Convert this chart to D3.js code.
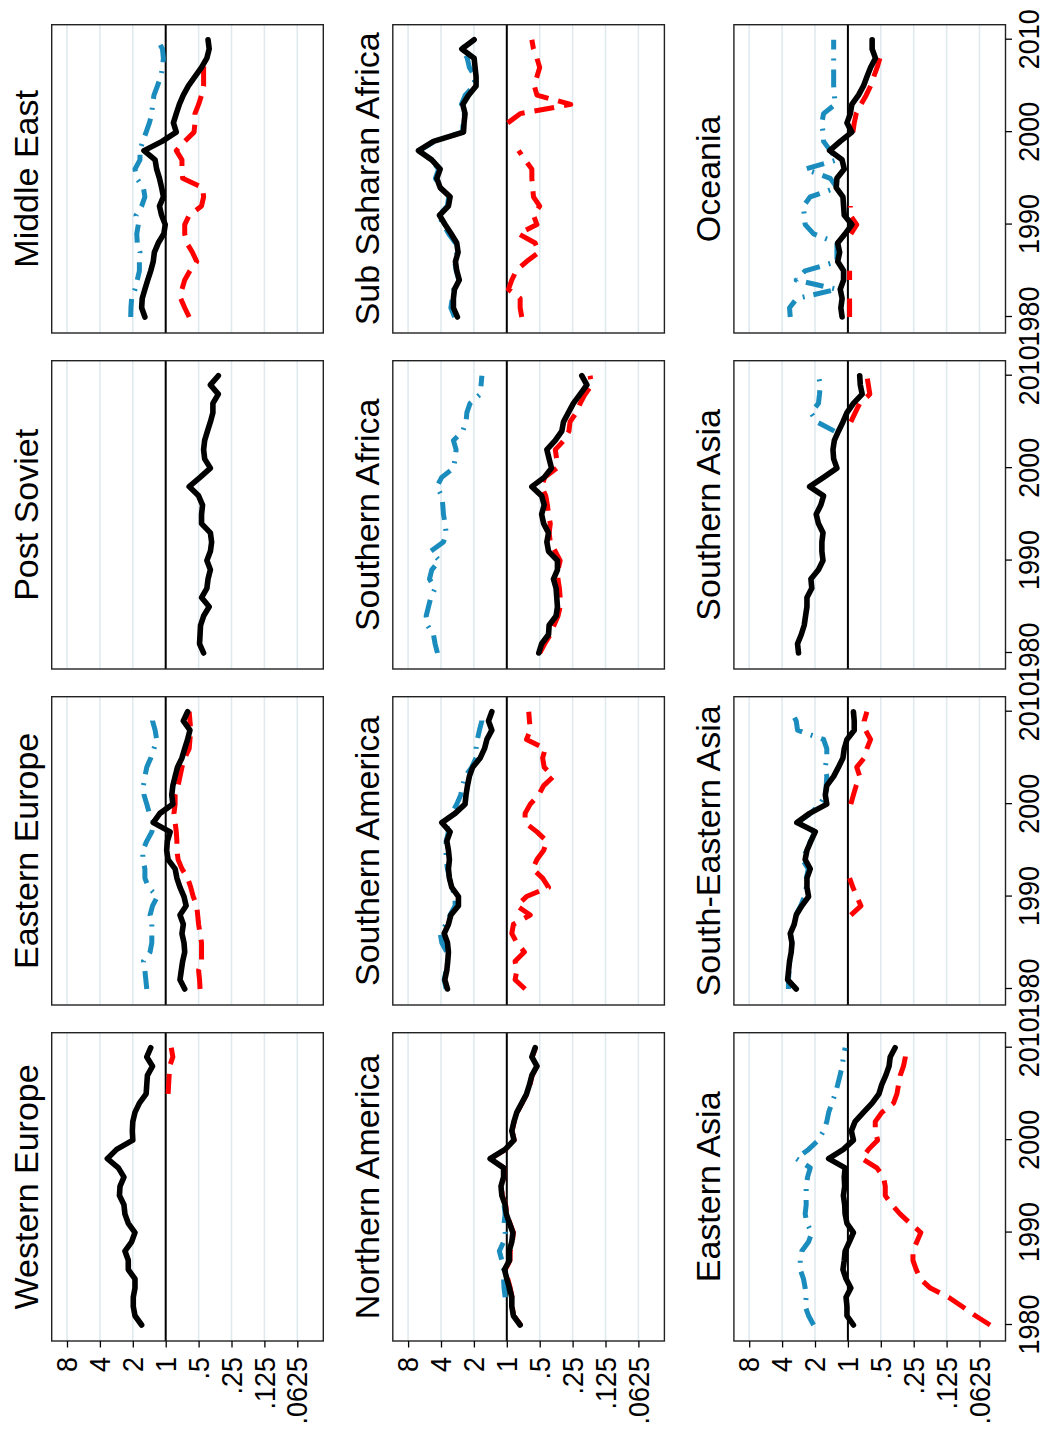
<!DOCTYPE html>
<html>
<head>
<meta charset="utf-8">
<script src="https://cdn.jsdelivr.net/npm/d3@7"></script>
<style>
  body { margin: 0; background: #fff; }
  svg { display: block; }
  text { font-family: "Liberation Sans", Arial, Helvetica, sans-serif; fill: #000; }
</style>
</head>
<body>
<div id="chart"></div>
<script>

const years = [1980, 1981, 1982, 1983, 1984, 1985, 1986, 1987, 1988, 1989,
               1990, 1991, 1992, 1993, 1994, 1995, 1996, 1997, 1998, 1999,
               2000, 2001, 2002, 2003, 2004, 2005, 2006, 2007, 2008, 2009, 2010];
const yearTicks = [1980, 1990, 2000, 2010];
const ratioTicks = [8, 4, 2, 1, 0.5, 0.25, 0.125, 0.0625];
const ratioLabels = ["8", "4", "2", "1", ".5", ".25", ".125", ".0625"];

// panel order as drawn before the graph was turned on its side (row by row)
const regions = ["Western Europe", "Eastern Europe", "Post Soviet", "Middle East",
                 "Northern America", "Southern America", "Southern Africa", "Sub Saharan Africa",
                 "Eastern Asia", "South-Eastern Asia", "Southern Asia", "Oceania"];

const westernEuropeBlack = [1.66,1.91,1.98,1.98,1.91, 1.91,2.20,2.20,2.36,2.05, 1.91,2.20,2.36,2.41,2.65, 2.62,2.41,2.71,3.42,2.81, 2.00,2.02,2.00,1.91,1.74, 1.51,1.49,1.47,1.32,1.49, 1.37];
const westernEuropeRed   = [null,null,null,null,null, null,null,null,null,null, null,null,null,null,null, null,null,null,null,null, null,null,null,null,null, 0.95,0.94,0.93,0.92,0.86, 0.89];

const easternEuropeBlack = [0.67,0.74,0.72,0.70,0.67, 0.68,0.71,0.69,0.74,0.65, 0.68,0.74,0.79,0.82,0.95, 0.98,0.965,0.91,1.30,1.13, 0.86,0.88,0.86,0.82,0.78, 0.71,0.67,0.63,0.60,0.69, 0.63];
const easternEuropeBlue  = [1.49,1.52,1.55,1.60,1.39, 1.34,1.34,1.34,1.39,1.32, 1.19,1.44,1.55,1.55,1.62, 1.62,1.49,1.34,1.28,1.41, 1.49,1.58,1.60,1.55,1.49, 1.37,1.28,1.21,1.25,1.32, 1.30];
const easternEuropeRed   = [0.485,0.49,0.50,0.47,0.47, 0.47,0.485,0.50,0.51,0.52, 0.56,0.59,0.63,0.71,0.77, 0.79,0.79,0.80,0.82,0.84, 0.82,0.82,0.77,0.74,0.71, 0.67,0.61,0.60,0.59,0.60, 0.61];

const postSovietBlack = [0.45,0.49,0.485,0.48,0.45, 0.40,0.47,0.42,0.41,0.39, 0.42,0.39,0.38,0.39,0.47, 0.47,0.46,0.50,0.61,0.485, 0.39,0.44,0.45,0.44,0.415, 0.39,0.37,0.37,0.33,0.39, 0.33];

const middleEastBlack = [1.55,1.66,1.64,1.55,1.46, 1.37,1.30,1.27,1.17,1.04, 1.01,1.09,1.14,1.05,1.09, 1.14,1.21,1.25,1.58,1.08, 0.80,0.85,0.80,0.75,0.69, 0.62,0.54,0.47,0.42,0.40, 0.41];
const middleEastBlue  = [2.09,2.08,2.05,1.91,1.82, 1.74,1.74,1.72,1.82,1.84, 1.78,1.87,1.66,1.55,1.60, 1.84,1.91,1.72,1.72,1.62, 1.51,1.41,1.34,1.32,1.28, 1.19,1.11,1.07,1.05,1.07, 1.19];
const middleEastRed   = [0.61,0.67,0.73,0.71,0.67, 0.60,0.52,0.57,0.64,0.67, 0.67,0.61,0.47,0.45,0.46, 0.70,0.71,0.71,0.80,0.67, 0.55,0.54,0.54,0.50,0.47, 0.45,0.45,0.45,0.44,null, null];

const northernAmericaBlack = [0.755,0.87,0.90,0.90,0.945, 1.00,1.05,0.945,0.95,0.90, 0.88,0.945,1.01,1.035,1.11, 1.13,1.07,1.07,1.42,1.035, 0.86,0.90,0.86,0.81,0.73, 0.66,0.62,0.59,0.53,0.59, 0.55];
const northernAmericaBlue  = [null,null,null,1.035,1.06, 1.07,1.07,1.11,1.17,1.07, 1.035,1.06,1.035,1.06,null, null,null,null,null,null, null,null,null,null,null, null,null,null,null,null, null];
const northernAmericaRed   = [0.745,0.865,0.895,0.895,0.93, 0.98,1.03,0.935,0.93,0.89, 0.87,0.935,1.00,1.025,1.10, 1.12,1.065,1.065,1.41,1.025, 0.855,0.895,0.855,0.805,0.725, 0.655,0.615,0.585,0.53,0.585, 0.545];

const southernAmericaBlack = [3.49,3.69,3.54,3.47,3.42, 3.49,3.74,3.42,3.25,2.77, 2.77,3.19,3.35,3.42,3.35, 3.42,3.54,3.30,3.93,2.97, 2.41,2.36,2.29,2.20,2.05, 1.75,1.60,1.52,1.37,1.47, 1.37];
const southernAmericaBlue  = [3.59,3.74,3.59,3.49,3.54, 3.93,4.07,3.59,3.30,2.97, 2.97,3.19,3.35,3.49,3.59, 3.59,3.59,3.42,3.59,3.19, 2.87,2.64,2.53,2.41,2.09, 1.91,1.91,1.86,1.78,1.69, 1.69];
const southernAmericaRed   = [0.68,0.84,0.81,0.84,0.69, 0.81,0.90,0.87,0.61,0.81, 0.66,0.415,0.47,0.58,0.53, 0.46,0.43,0.53,0.68,0.68, 0.61,0.51,0.46,0.374,0.455, 0.47,0.445,0.66,0.61,0.62, 0.63];

const southernAfricaBlack = [0.51,0.48,0.415,0.41,0.354, 0.344,0.349,0.354,0.374,0.344, 0.344,0.415,0.43,0.415,0.46, 0.48,0.455,0.48,0.59,0.455, 0.39,0.41,0.43,0.36,0.314, 0.303,0.273,0.246,0.213,0.185, 0.206];
const southernAfricaBlue  = [4.31,4.53,4.69,5.32,5.47, 5.21,4.96,4.53,5.10,4.86, 4.13,4.96,3.80,3.59,3.67, 3.80,3.85,3.94,4.37,3.94, 3.08,2.97,2.91,3.08,2.53, 2.36,2.32,2.17,1.75,1.72, 1.69];
const southernAfricaRed   = [0.50,0.45,0.40,0.37,0.34, 0.325,0.325,0.33,0.34,0.34, 0.325,0.36,0.40,0.41,0.40, 0.415,0.425,0.44,0.48,0.45, 0.35,0.35,0.36,0.30,0.27, 0.264,0.232,0.213,0.192,0.167, 0.173];

const subSaharanBlack = [2.83,3.08,3.08,3.01,2.72, 2.87,2.95,2.79,2.87,3.23, 3.67,4.13,3.42,3.30,4.07, 4.37,4.07,4.86,6.43,4.69, 2.49,2.46,2.41,2.53,2.24, 1.91,1.91,1.95,1.99,2.58, 1.99];
const subSaharanBlue  = [3.0,3.25,3.15,3.05,2.75, 2.9,3.0,2.85,2.95,3.4, 3.8,4.2,3.5,3.4,4.1, 4.5,4.2,4.9,6.3,4.6, 2.55,2.5,2.45,2.6,2.4, 2.0,1.95,2.2,2.3,2.55, 2.2];
const subSaharanRed   = [0.73,0.755,0.755,0.965,0.90, 0.82,0.66,0.51,0.55,0.78, 0.53,0.57,0.50,0.57,0.58, 0.59,0.59,0.68,0.78,null, null,0.98,0.755,0.26,0.53, 0.56,0.53,0.50,0.53,0.57, 0.59];

const easternAsiaBlack = [0.89,1.02,1.02,1.04,0.94, 1.04,1.11,1.08,1.06,0.97, 0.89,1.02,1.06,1.07,1.10, 1.07,1.08,1.06,1.50,1.10, 0.89,0.93,0.86,0.72,0.60, 0.52,0.49,0.45,0.42,0.41, 0.37];
const easternAsiaBlue  = [2.06,2.29,2.46,2.41,2.46, 2.55,2.73,2.73,2.64,2.29, 2.14,2.37,2.46,2.41,2.41, 2.41,2.34,2.21,2.97,2.29, 1.86,1.67,1.56,1.50,1.40, 1.31,1.24,1.18,1.13,1.10, 1.06];
const easternAsiaRed   = [0.050,0.068,0.090,0.120,0.176, 0.218,0.237,0.254,0.254,0.234, 0.215,0.269,0.332,0.396,0.455, 0.455,0.472,0.543,0.744,0.647, 0.535,0.562,0.562,0.489,0.382, 0.356,0.344,0.332,0.310,0.298, 0.292];

const southEasternAsiaBlack = [2.97,3.56,3.49,3.42,3.30, 3.25,3.37,3.10,2.97,2.64, 2.29,2.37,2.37,2.21,2.46, 2.37,2.18,1.99,2.93,2.24, 1.56,1.61,1.56,1.35,1.22, 1.11,1.08,1.02,0.875,0.875, 0.89];
const southEasternAsiaBlue  = [3.5,3.5,3.45,3.4,3.3, 3.25,3.35,3.1,3.0,2.7, 2.5,2.4,2.4,2.3,2.6, 2.4,2.2,2.0,2.9,2.2, 1.8,1.6,1.58,1.56,1.61, 1.56,1.56,1.67,2.89,2.97, 3.30];
const southEasternAsiaRed   = [null,null,null,null,null, null,null,null,0.94,0.76, 0.83,0.90,0.965,null,null, null,null,null,null,null, 0.94,0.89,0.84,0.78,0.83, 0.71,0.67,0.62,0.69,0.71, 0.67];

const southernAsiaBlack = [2.83,2.89,2.67,2.51,2.44, 2.37,2.37,2.14,2.18,1.86, 1.69,1.73,1.73,1.69,1.86, 1.95,1.77,1.67,2.24,1.67, 1.26,1.35,1.37,1.33,1.22, 1.11,1.02,0.89,0.74,0.77, 0.78];
const southernAsiaBlue  = [null,null,null,null,null, null,null,null,null,null, null,null,null,null,null, null,null,null,null,null, null,null,null,null,1.33, 1.92,2.18,1.86,1.82,1.79, 1.86];
const southernAsiaRed   = [null,null,null,null,null, null,null,null,null,null, null,null,null,null,null, null,null,null,null,null, null,null,null,null,null, 0.94,0.857,0.78,0.63,0.65, 0.67];

const oceaniaBlack = [1.13,1.16,1.13,1.175,1.095, 1.095,1.24,1.19,1.24,1.06, 0.92,1.08,1.095,1.11,1.28, 1.26,1.08,1.13,1.47,1.175, 0.92,1.02,0.95,0.92,0.80, 0.72,0.67,0.62,0.56,0.60, 0.60];
const oceaniaBlue  = [3.37,3.42,2.93,1.26,2.97, 2.46,1.26,1.26,1.26,2.06, 2.46,2.51,2.55,2.21,1.26, 1.45,2.46,1.26,1.45,1.67, 1.69,1.73,1.67,1.31,1.33, 1.35,1.35,1.35,1.35,1.35, 1.35];
const oceaniaRed   = [0.965,0.965,0.965,null,0.965, 0.965,null,null,null,0.94, 0.83,0.95,0.95,null,null, null,null,null,null,null, 0.90,0.875,0.84,0.76,0.68, 0.62,0.58,0.54,0.51,null, null];

const panels = [
    { black: westernEuropeBlack, blue: null, red: westernEuropeRed },
    { black: easternEuropeBlack, blue: easternEuropeBlue, red: easternEuropeRed },
    { black: postSovietBlack, blue: null, red: null },
    { black: middleEastBlack, blue: middleEastBlue, red: middleEastRed },
    { black: northernAmericaBlack, blue: northernAmericaBlue, red: northernAmericaRed },
    { black: southernAmericaBlack, blue: southernAmericaBlue, red: southernAmericaRed },
    { black: southernAfricaBlack, blue: southernAfricaBlue, red: southernAfricaRed },
    { black: subSaharanBlack, blue: subSaharanBlue, red: subSaharanRed },
    { black: easternAsiaBlack, blue: easternAsiaBlue, red: easternAsiaRed },
    { black: southEasternAsiaBlack, blue: southEasternAsiaBlue, red: southEasternAsiaRed },
    { black: southernAsiaBlack, blue: southernAsiaBlue, red: southernAsiaRed },
    { black: oceaniaBlack, blue: oceaniaBlue, red: oceaniaRed }
];

// the graph is laid out wide (1431 x 1048) and then turned a quarter turn to the left
const outW = 1048, outH = 1431;
const panelW = 308.3, panelH = 271.6;
const colStep = 336, rowStep = 341.1;
const firstLeft = 90, firstTop = 51.7;

const svg = d3.select("#chart").append("svg")
    .attr("width", outW)
    .attr("height", outH);

svg.append("rect").attr("width", outW).attr("height", outH).attr("fill", "#fff");

const g = svg.append("g")
    .attr("transform", `translate(0,${outH}) rotate(-90)`);

const styles = {
    blue:  { color: "#1a8cbe", dash: "18,9,2,9", cap: "butt", width: 5 },
    red:   { color: "#ff0000", dash: "20,10", cap: "butt", width: 5 },
    black: { color: "#000000", dash: null, cap: "round", width: 5.6 }
};

panels.forEach((p, i) => {
    const col = i % 4;
    const row = Math.floor(i / 4);
    const left = firstLeft + col * colStep;
    const top = firstTop + row * rowStep;

    const x = d3.scaleLinear()
        .domain([1980, 2010])
        .range([left + 16, left + 293.3]);

    const y = d3.scaleLog().base(2)
        .domain([8, 0.0625])
        .range([top + 15.3, top + 245.6]);

    const pg = g.append("g");

    // grid lines
    pg.append("g")
        .selectAll("line")
        .data(ratioTicks)
        .join("line")
        .attr("x1", left)
        .attr("x2", left + panelW)
        .attr("y1", d => y(d))
        .attr("y2", d => y(d))
        .attr("stroke", "#e0eaee")
        .attr("stroke-width", 1.6);

    // reference line at 1
    pg.append("line")
        .attr("x1", left)
        .attr("x2", left + panelW)
        .attr("y1", y(1))
        .attr("y2", y(1))
        .attr("stroke", "#000")
        .attr("stroke-width", 2);

    const line = d3.line()
        .defined(d => d[1] !== null)
        .x(d => x(d[0]))
        .y(d => y(d[1]));

    ["blue", "red", "black"].forEach(key => {
        if (!p[key]) return;
        const pts = years.map((yr, k) => [yr, p[key][k]]);
        const s = styles[key];
        pg.append("path")
            .attr("d", line(pts))
            .attr("fill", "none")
            .attr("stroke", s.color)
            .attr("stroke-width", s.width)
            .attr("stroke-linejoin", "round")
            .attr("stroke-linecap", s.cap)
            .attr("stroke-dasharray", s.dash);
    });

    // plot region outline
    pg.append("rect")
        .attr("x", left)
        .attr("y", top)
        .attr("width", panelW)
        .attr("height", panelH)
        .attr("fill", "none")
        .attr("stroke", "#222")
        .attr("stroke-width", 1.4);

    // title
    pg.append("text")
        .attr("x", left + panelW / 2)
        .attr("y", top - 14)
        .attr("text-anchor", "middle")
        .style("font-size", "34px")
        .text(regions[i]);

    if (col === 0) {
        const ax = pg.append("g")
            .attr("transform", `translate(${left},0)`)
            .call(d3.axisLeft(y)
                .tickValues(ratioTicks)
                .tickFormat((d, k) => ratioLabels[k])
                .tickSize(6.5)
                .tickPadding(11.3));
        ax.select(".domain").remove();
        ax.selectAll("line").attr("stroke", "#000").attr("stroke-width", 1.3);
        ax.selectAll("text")
            .attr("transform", "scale(0.9,1)")
            .style("font-size", "30px");
    }

    if (row === 2) {
        const ax = pg.append("g")
            .attr("transform", `translate(0,${top + panelH})`)
            .call(d3.axisBottom(x)
                .tickValues(yearTicks)
                .tickFormat(d3.format("d"))
                .tickSize(6.5)
                .tickPadding(5.9));
        ax.select(".domain").remove();
        ax.selectAll("line").attr("stroke", "#000").attr("stroke-width", 1.3);
        ax.selectAll("text")
            .attr("transform", "scale(0.9,1)")
            .style("font-size", "30px");
    }
});

</script>
</body>
</html>
